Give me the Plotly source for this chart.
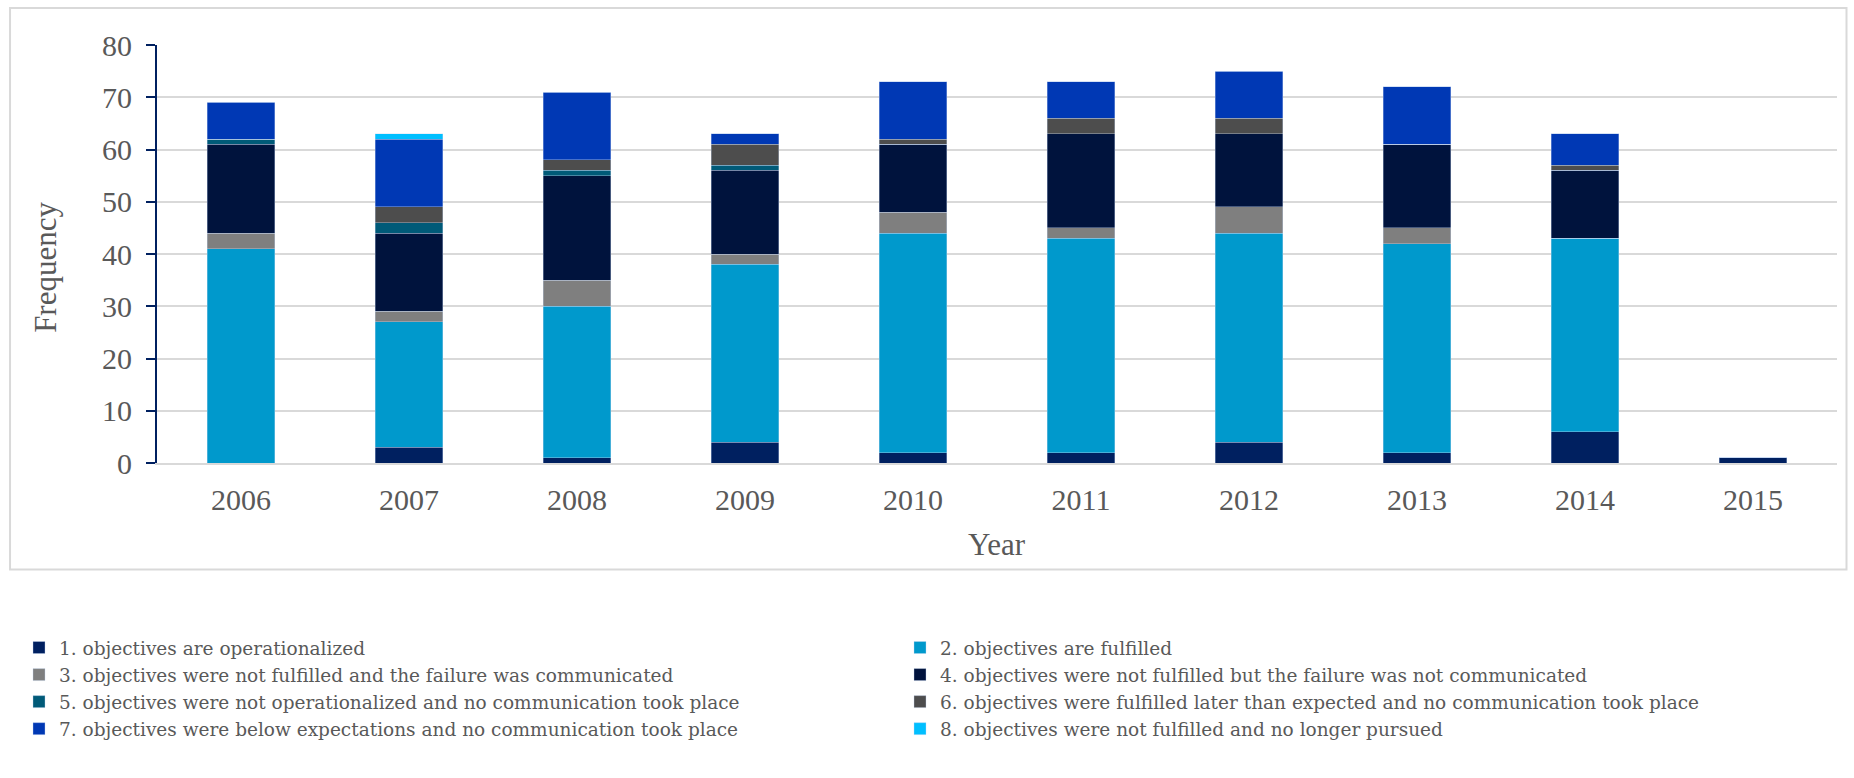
import plotly.graph_objects as go

years = ["2006", "2007", "2008", "2009", "2010", "2011", "2012", "2013", "2014", "2015"]

cat1 = [0, 3, 1, 4, 2, 2, 4, 2, 6, 1]
cat2 = [41, 24, 29, 34, 42, 41, 40, 40, 37, 0]
cat3 = [3, 2, 5, 2, 4, 2, 5, 3, 0, 0]
cat4 = [17, 15, 20, 16, 13, 18, 14, 16, 13, 0]
cat5 = [1, 2, 1, 1, 0, 0, 0, 0, 0, 0]
cat6 = [0, 3, 2, 4, 1, 3, 3, 0, 1, 0]
cat7 = [7, 13, 13, 2, 11, 7, 9, 11, 6, 0]
cat8 = [0, 1, 0, 0, 0, 0, 0, 0, 0, 0]

series_names = [
    "1. objectives are operationalized",
    "2. objectives are fulfilled",
    "3. objectives were not fulfilled and the failure was communicated",
    "4. objectives were not fulfilled but the failure was not communicated",
    "5. objectives were not operationalized and no communication took place",
    "6. objectives were fulfilled later than expected and no communication took place",
    "7. objectives were below expectations and no communication took place",
    "8. objectives were not fulfilled and no longer pursued",
]
series_values = [cat1, cat2, cat3, cat4, cat5, cat6, cat7, cat8]
series_colors = ["#002060", "#0099CC", "#7F7F7F", "#00133D", "#005A78", "#4D4D4D", "#0038B4", "#00BFFF"]

FONT = "Liberation Serif, Times New Roman, serif"
LEGFONT = "DejaVu Serif, Liberation Serif, serif"
TXT = "#595959"

fig = go.Figure()
for i, (name, vals, col) in enumerate(zip(series_names, series_values, series_colors)):
    fig.add_trace(go.Bar(
        x=years, y=vals, name=name,
        legend="legend" if i % 2 == 0 else "legend2",
        marker=dict(color=col, line=dict(color="rgba(200,215,240,0.6)", width=0.6)),
    ))

W, H = 1854, 778
L, R, T, B = 157, 16.5, 45, 314.7
pw = W - L - R
ph = H - T - B

def px_x(p):
    return (p - L) / pw

def px_y(p):
    return (H - B - p) / ph

leg_common = dict(
    orientation="v", traceorder="normal",
    xref="container", yref="container",
    xanchor="left", yanchor="top",
    font=dict(size=18.5, color=TXT, family=LEGFONT),
    itemclick=False, bgcolor="rgba(0,0,0,0)", tracegroupgap=0,
)

fig.update_layout(
    width=W, height=H,
    barmode="stack", bargap=0.6,
    plot_bgcolor="white", paper_bgcolor="white",
    margin=dict(l=L, r=R, t=T, b=B, autoexpand=False),
    font=dict(family=FONT, color=TXT),
    xaxis=dict(
        type="category", showgrid=False, showline=True, linecolor="#D9D9D9", linewidth=2,
        ticks="", tickfont=dict(size=30, color=TXT, family=FONT), ticklabelstandoff=9,
    ),
    yaxis=dict(
        range=[0, 80], dtick=10, showgrid=True, gridcolor="#D9D9D9", gridwidth=2,
        zeroline=False, showline=True, linecolor="#002060", linewidth=2,
        ticks="outside", ticklen=9, tickwidth=2, tickcolor="#002060",
        tickfont=dict(size=30, color=TXT, family=FONT), ticklabelstandoff=8,
    ),
    legend=dict(leg_common, x=19 / W, y=1 - 629 / H),
    legend2=dict(leg_common, x=900 / W, y=1 - 629 / H),
    showlegend=True,
)

fig.add_annotation(
    text="Year", xref="paper", yref="paper", x=0.5, y=px_y(545),
    xanchor="center", yanchor="middle", showarrow=False,
    font=dict(size=31, color=TXT, family=FONT),
)
fig.add_annotation(
    text="Frequency", xref="paper", yref="paper", x=px_x(46), y=px_y(268),
    xanchor="center", yanchor="middle", showarrow=False, textangle=-90,
    font=dict(size=31, color=TXT, family=FONT),
)

fig.add_shape(
    type="rect", xref="paper", yref="paper",
    x0=px_x(10), x1=px_x(1847), y0=px_y(570), y1=px_y(8),
    line=dict(color="#D9D9D9", width=2), fillcolor="rgba(0,0,0,0)", layer="below",
)

fig.write_html("out.html")
